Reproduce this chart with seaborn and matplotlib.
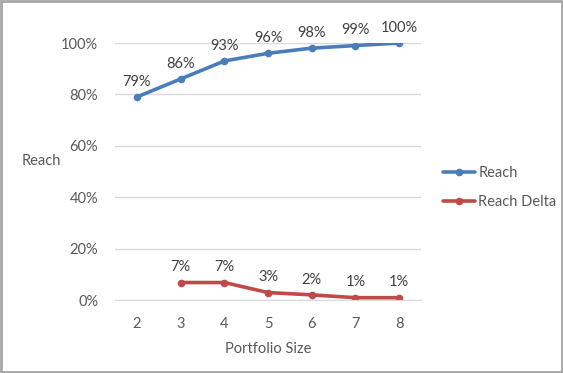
import numpy as np
import pandas as pd
import matplotlib.pyplot as plt
import seaborn as sns

portfolio_size = [2, 3, 4, 5, 6, 7, 8]
reach = [0.79, 0.86, 0.93, 0.96, 0.98, 0.99, 1.00]
reach_delta = [np.nan, 0.068, 0.068, 0.029, 0.020, 0.009, 0.009]
reach_labels = ["79%", "86%", "93%", "96%", "98%", "99%", "100%"]
delta_labels = ["", "7%", "7%", "3%", "2%", "1%", "1%"]

sns.set_style("white")
plt.rcParams["font.family"] = ["Lato", "DejaVu Sans"]
text_col = "#595959"
blue = "#4A7EBB"
red = "#BE4B48"
fs = 10.5

fig = plt.figure(figsize=(5.63, 3.73), dpi=100)
ax = fig.add_axes([0.2043, 0.1957, 0.5435, 0.689])

sns.lineplot(x=portfolio_size, y=reach, ax=ax, color=blue, lw=2.6,
             marker="o", markersize=5.5, markeredgewidth=0, label="Reach")
sns.lineplot(x=portfolio_size, y=reach_delta, ax=ax, color=red, lw=2.6,
             marker="o", markersize=5.5, markeredgewidth=0, label="Reach Delta")

for x, y, t in zip(portfolio_size, reach, reach_labels):
    ax.annotate(t, (x, y), xytext=(0, 6), textcoords="offset points",
                ha="center", va="bottom", fontsize=fs, color="#404040")
for x, y, t in zip(portfolio_size, reach_delta, delta_labels):
    if t:
        ax.annotate(t, (x, y), xytext=(0, 6), textcoords="offset points",
                    ha="center", va="bottom", fontsize=fs, color="#404040")

ax.set_xlim(1.5, 8.5)
ax.set_ylim(0, 1)
ax.set_yticks(np.arange(0, 1.01, 0.2))
ax.set_yticklabels([f"{int(round(v * 100))}%" for v in np.arange(0, 1.01, 0.2)])
ax.set_xticks(portfolio_size)
ax.set_xticks(np.arange(1.5, 8.6, 1), minor=True)
ax.grid(axis="y", color="#D9D9D9", lw=1)
for s in ["top", "right", "left"]:
    ax.spines[s].set_visible(False)
ax.spines["bottom"].set_color("#D9D9D9")
ax.tick_params(axis="x", which="major", length=0, pad=12, labelsize=fs, labelcolor=text_col)
ax.tick_params(axis="x", which="minor", length=5, color="#D9D9D9", width=1)
ax.tick_params(axis="y", length=0, pad=12, labelsize=fs, labelcolor=text_col)

ax.set_xlabel("Portfolio Size", fontsize=fs, color=text_col, labelpad=8)
ax.set_ylabel("Reach", fontsize=fs, color=text_col, rotation=0, labelpad=0)
ax.yaxis.set_label_coords(-0.24, 0.515)

ax.legend(loc="center left", bbox_to_anchor=(1.03, 0.437), frameon=False,
          fontsize=fs, labelcolor=text_col, handlelength=2.2, handletextpad=0.2,
          labelspacing=1.0)

fig.patches.append(plt.Rectangle((0.001, 0.002), 0.997, 0.995, transform=fig.transFigure,
                                 fill=False, edgecolor="#A6A6A6", lw=2))

fig.savefig("out.png", dpi=100)
